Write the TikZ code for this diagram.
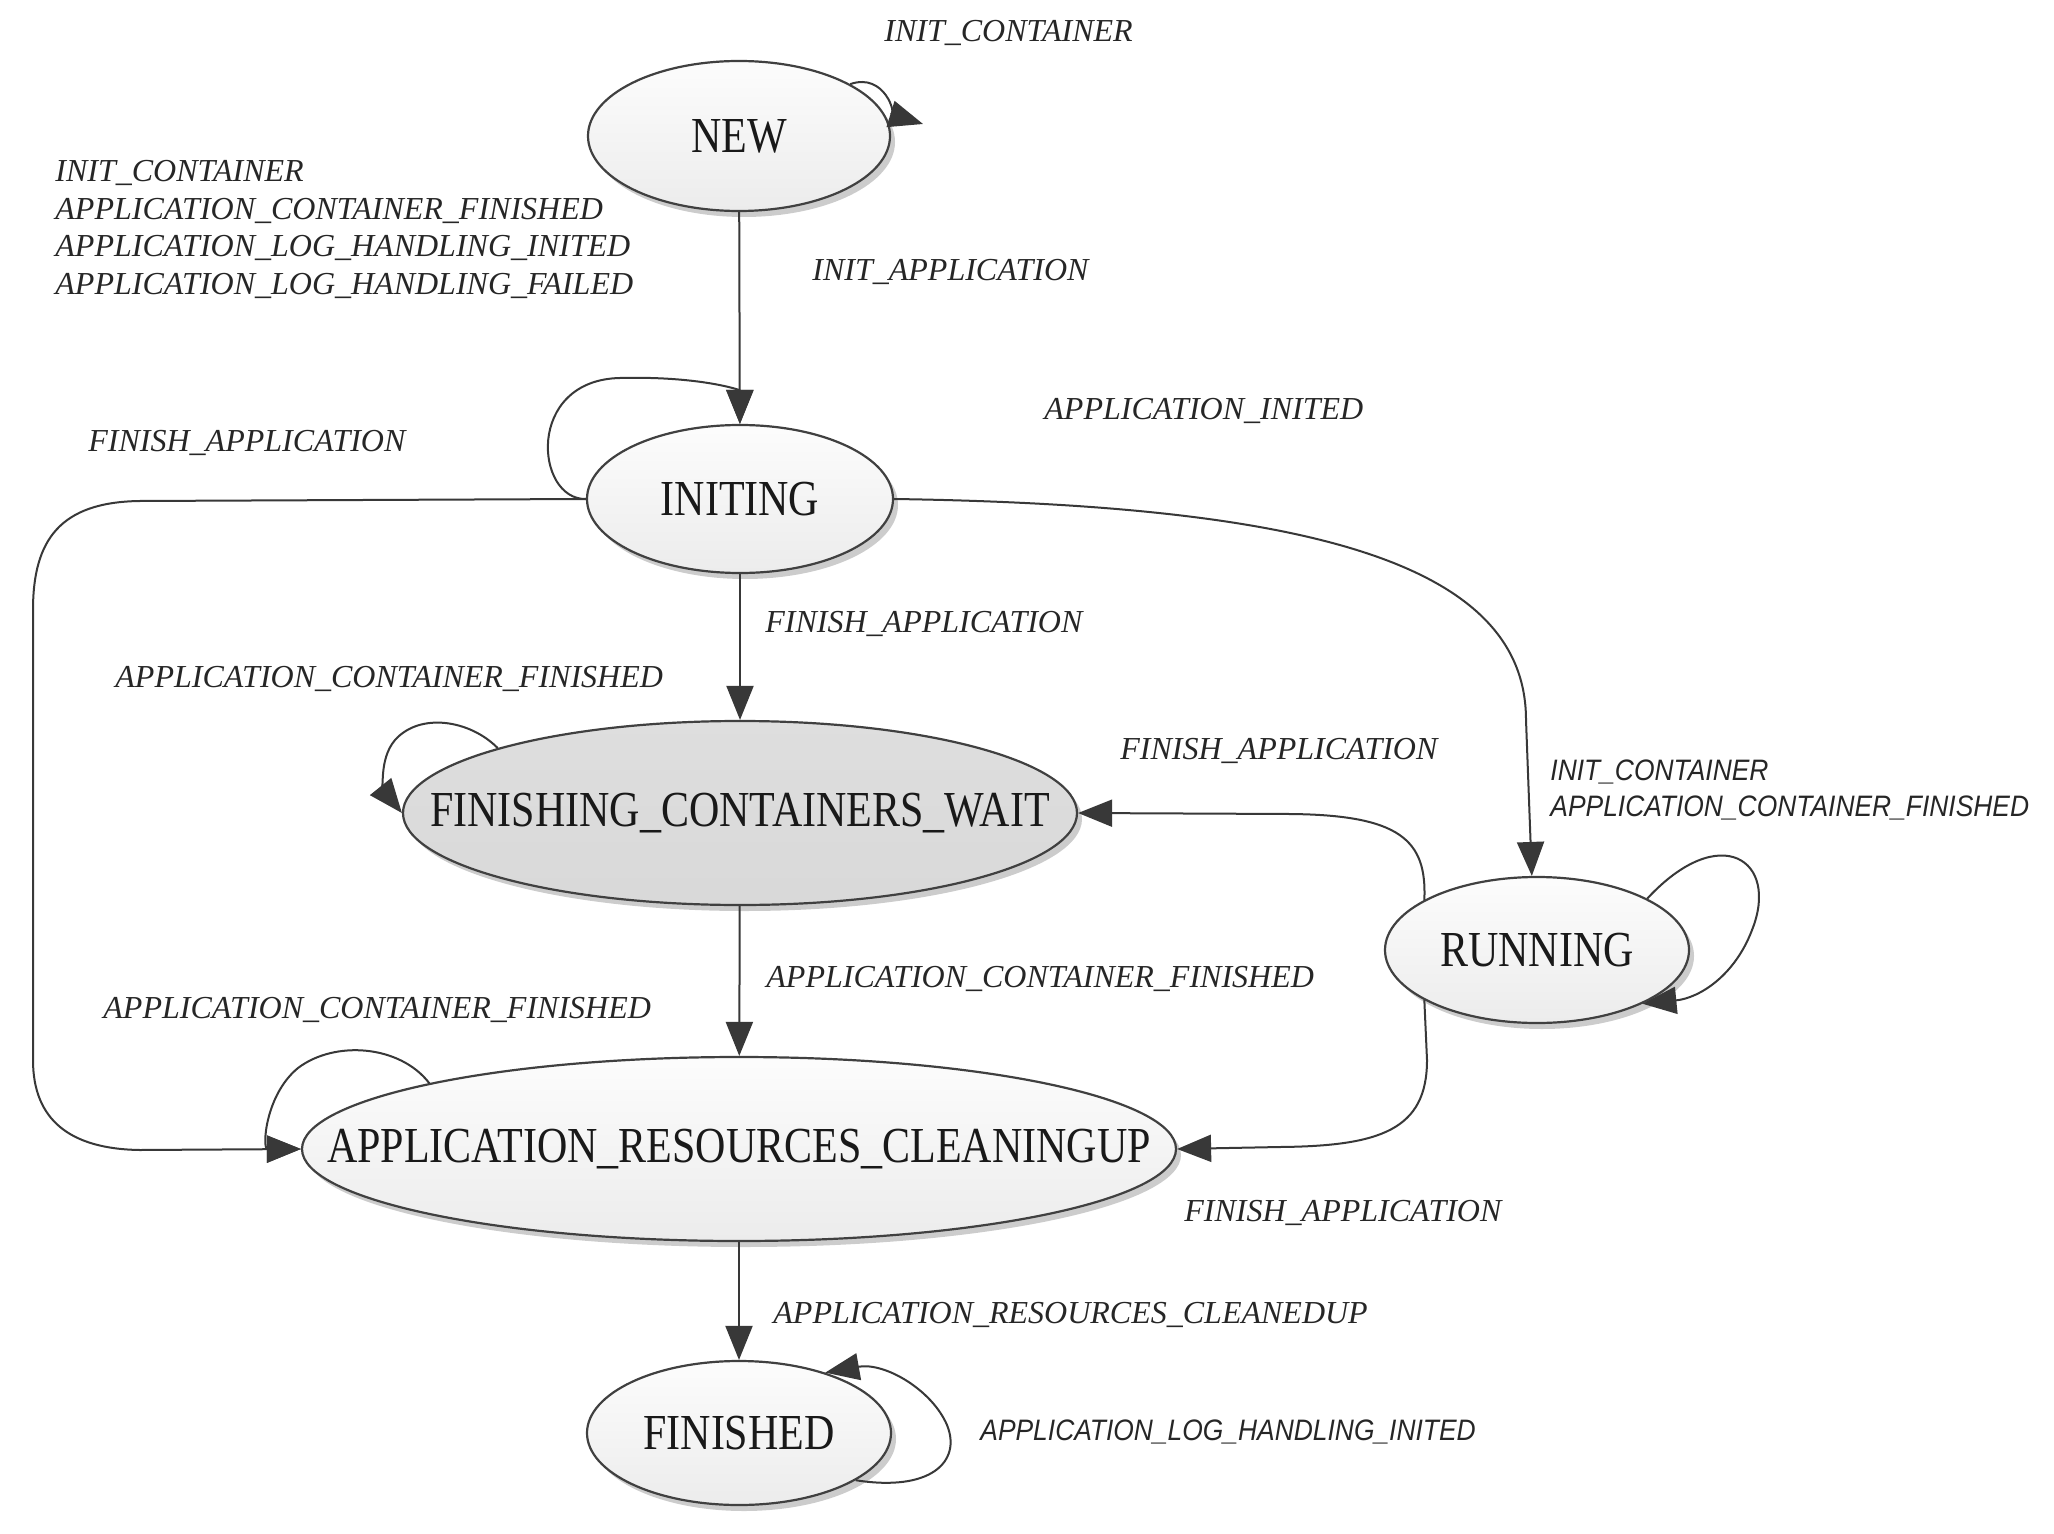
\documentclass[tikz,border=0pt]{standalone}
\usepackage{fontspec}
\setmainfont{Liberation Serif}
\newfontfamily\sansf{Liberation Sans}
\usetikzlibrary{shapes.geometric,arrows.meta,shadows}
\newcommand\stt[1]{\makebox[0pt]{\scalebox{1}[1.2]{#1}}}
\begin{document}
\begin{tikzpicture}[x=0.5pt,y=-0.5pt,
  state/.style={ellipse, draw=black!75, line width=1.1pt, top color=gray!2, bottom color=gray!15,
    drop shadow={shadow xshift=2.5pt,shadow yshift=-3pt,opacity=0.2,fill=black},
    inner sep=0pt, font=\fontsize{21}{25}\selectfont, text=black!90},
  darkstate/.style={state, top color=gray!26, bottom color=gray!30},
  trans/.style={draw=black!78, line width=1pt, -{Triangle[length=17pt,width=13.5pt]}},
  lab/.style={anchor=west, inner sep=0pt, font=\fontsize{16}{18.75}\selectfont\itshape, text=black!85},
  slab/.style={anchor=west, inner sep=0pt, font=\sansf\itshape\fontsize{13.2}{16}\selectfont, text=black!85}
]
\useasboundingbox (0,0) rectangle (2054,1534);
\fill[white] (0,0) rectangle (2054,1534);

% states
\node[state, minimum width=151pt, minimum height=75pt] (NEW) at (739,136) {\stt{NEW}};
\node[state, minimum width=153pt, minimum height=74pt] (INITING) at (740,499) {\stt{INITING}};
\node[darkstate, minimum width=337pt, minimum height=92pt] (FCW) at (740,813) {\stt{FINISHING\_CONTAINERS\_WAIT}};
\node[state, minimum width=152pt, minimum height=73pt] (RUNNING) at (1537,950) {\stt{RUNNING}};
\node[state, minimum width=437pt, minimum height=92pt] (ARC) at (739,1149) {\stt{APPLICATION\_RESOURCES\_CLEANINGUP}};
\node[state, minimum width=152pt, minimum height=72pt] (FINISHED) at (739,1433) {\stt{FINISHED}};

\coordinate (newloopend) at (923,124);

% transitions
\draw[trans] (NEW.25) .. controls (885,72) and (897,116) .. (newloopend);
\draw[trans] (NEW) -- (INITING);
\draw[trans] (INITING.west) .. controls (535,500) and (525,380) .. (620,378)
   .. controls (700,376) and (740,390) .. (INITING.north);
\draw[trans] (INITING.west) -- (140,501) .. controls (60,502) and (33,540) .. (33,610)
   -- (33,1060) .. controls (33,1120) and (70,1149) .. (140,1150) -- (ARC.west);
\draw[trans] (INITING.east) .. controls (1300,505) and (1526,560) .. (1526,720) -- (RUNNING.94);
\draw[trans] (INITING) -- (FCW);
\draw[trans] (FCW.165) .. controls (470,720) and (420,712) .. (395,740)
   .. controls (378,760) and (385,792) .. (FCW.west);
\draw[trans] (RUNNING.156) .. controls (1427,840) and (1400,815) .. (1290,814) -- (FCW.east);
\draw[trans] (RUNNING.25) .. controls (1720,820) and (1780,860) .. (1752,930)
   .. controls (1735,975) and (1700,998) .. (RUNNING.-27);
\draw[trans] (FCW) -- (ARC);
\draw[trans] (ARC.168) .. controls (400,1045) and (335,1040) .. (298,1068)
   .. controls (265,1095) and (262,1149) .. (ARC.west);
\draw[trans] (RUNNING.204) -- (1427,1060) .. controls (1427,1130) and (1380,1146) .. (1280,1147) -- (ARC.east);
\draw[trans] (ARC) -- (FINISHED);
\draw[trans] (FINISHED.-22) .. controls (930,1492) and (962,1462) .. (947,1425)
   .. controls (932,1390) and (885,1362) .. (FINISHED.35);

% labels
\node[lab] (l1) at (884,33) {INIT\_CONTAINER};
\node[lab, anchor=north west, align=left] (l2) at (55,160) {INIT\_CONTAINER\\APPLICATION\_CONTAINER\_FINISHED\\APPLICATION\_LOG\_HANDLING\_INITED\\APPLICATION\_LOG\_HANDLING\_FAILED};
\node[lab] (l3) at (812,272) {INIT\_APPLICATION};
\node[lab] (l4) at (1044,411) {APPLICATION\_INITED};
\node[lab] (l5) at (88,443) {FINISH\_APPLICATION};
\node[lab] (l6) at (765,624) {FINISH\_APPLICATION};
\node[lab] (l7) at (115,679) {APPLICATION\_CONTAINER\_FINISHED};
\node[lab] (l8) at (1120,751) {FINISH\_APPLICATION};
\node[slab, anchor=north west] (l9) at (1550,755) {\scalebox{1}[1.12]{\begin{tabular}{@{}l@{}}INIT\_CONTAINER\\APPLICATION\_CONTAINER\_FINISHED\end{tabular}}};
\node[lab] (l10) at (766,979) {APPLICATION\_CONTAINER\_FINISHED};
\node[lab] (l11) at (103,1010) {APPLICATION\_CONTAINER\_FINISHED};
\node[lab] (l12) at (1184,1213) {FINISH\_APPLICATION};
\node[lab] (l13) at (773,1315) {APPLICATION\_RESOURCES\_CLEANEDUP};
\node[slab] (l14) at (980,1432) {\scalebox{1}[1.12]{APPLICATION\_LOG\_HANDLING\_INITED}};
\end{tikzpicture}
\end{document}
